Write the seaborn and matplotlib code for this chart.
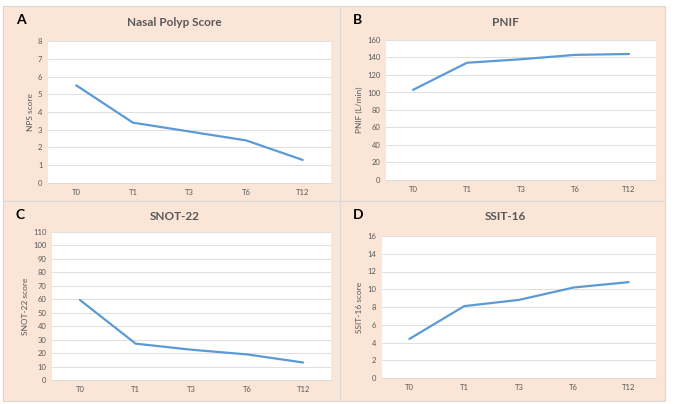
import matplotlib.pyplot as plt
import matplotlib.patches as mpatches
import seaborn as sns
import pandas as pd

# Data
timepoints = ['T0', 'T1', 'T3', 'T6', 'T12']
nps_score = [5.5, 3.4, 2.9, 2.4, 1.3]
pnif = [103, 134, 138, 143, 144]
snot22 = [59.5, 27, 22.5, 19, 13]
ssit16 = [4.4, 8.1, 8.8, 10.2, 10.8]

panel_letters = ['A', 'B', 'C', 'D']
panel_titles = ['Nasal Polyp Score', 'PNIF', 'SNOT-22', 'SSIT-16']
y_labels = ['NPS score', 'PNIF (L/min)', 'SNOT-22 score', 'SSIT-16 score']
y_max = [8, 160, 110, 16]
y_step = [1, 20, 10, 2]

sns.set_theme(style='white')
plt.rcParams['font.family'] = ['Lato', 'DejaVu Sans']

W, H = 676, 404
fig = plt.figure(figsize=(W / 100, H / 100), dpi=100)
fig.patch.set_facecolor('white')

PEACH = '#FBE5D6'
TEXT = '#595959'
LINE = '#5B9BD5'

# panel boxes in pixels (x0, y0, x1, y1) from top-left
boxes = [(3, 6, 340, 201), (340, 6, 665, 201),
         (3, 201, 340, 401), (340, 201, 665, 401)]
# white plot areas in pixels
areas = [(48, 41, 331, 183), (386, 40, 656, 180),
         (52, 232, 331, 380), (382, 236, 656, 378)]

for x0, y0, x1, y1 in boxes:
    fig.patches.append(mpatches.Rectangle(
        (x0 / W, 1 - y1 / H), (x1 - x0) / W, (y1 - y0) / H,
        transform=fig.transFigure, facecolor=PEACH,
        edgecolor='#D9D9D9', linewidth=0.8, zorder=-5))

series = [nps_score, pnif, snot22, ssit16]

for i in range(4):
    x0, y0, x1, y1 = areas[i]
    ax = fig.add_axes([x0 / W, 1 - y1 / H, (x1 - x0) / W, (y1 - y0) / H])
    ax.set_zorder(1)
    ax.set_facecolor('white')
    df = pd.DataFrame({'time': timepoints, 'value': series[i]})
    sns.lineplot(data=df, x='time', y='value', ax=ax, color=LINE,
                 linewidth=1.6, sort=False)
    ax.set_xlim(-0.5, len(timepoints) - 0.5)
    ax.set_ylim(0, y_max[i])
    ax.set_yticks(range(0, y_max[i] + 1, y_step[i]))
    ax.yaxis.grid(True, color='#D9D9D9', linewidth=0.6)
    ax.set_axisbelow(True)
    for s in ['top', 'right', 'left']:
        ax.spines[s].set_visible(False)
    ax.spines['bottom'].set_color('#D9D9D9')
    ax.spines['bottom'].set_linewidth(0.6)
    ax.tick_params(axis='both', length=0, labelsize=5.5, colors=TEXT, pad=4)
    ax.set_xlabel('')
    ax.set_ylabel(y_labels[i], fontsize=6, color=TEXT, labelpad=3)

    bx0, by0, bx1, by1 = boxes[i]
    cx = (bx0 + bx1) / 2 + 3
    fig.text(cx / W, 1 - (by0 + 16) / H, panel_titles[i], fontsize=8.5,
             fontweight='bold', color=TEXT, ha='center', va='center')
    fig.text((bx0 + 13) / W, 1 - (by0 + 14) / H, panel_letters[i],
             fontsize=10, fontweight='bold', color='black',
             ha='left', va='center')

fig.savefig('out.png', dpi=100, facecolor='white')
